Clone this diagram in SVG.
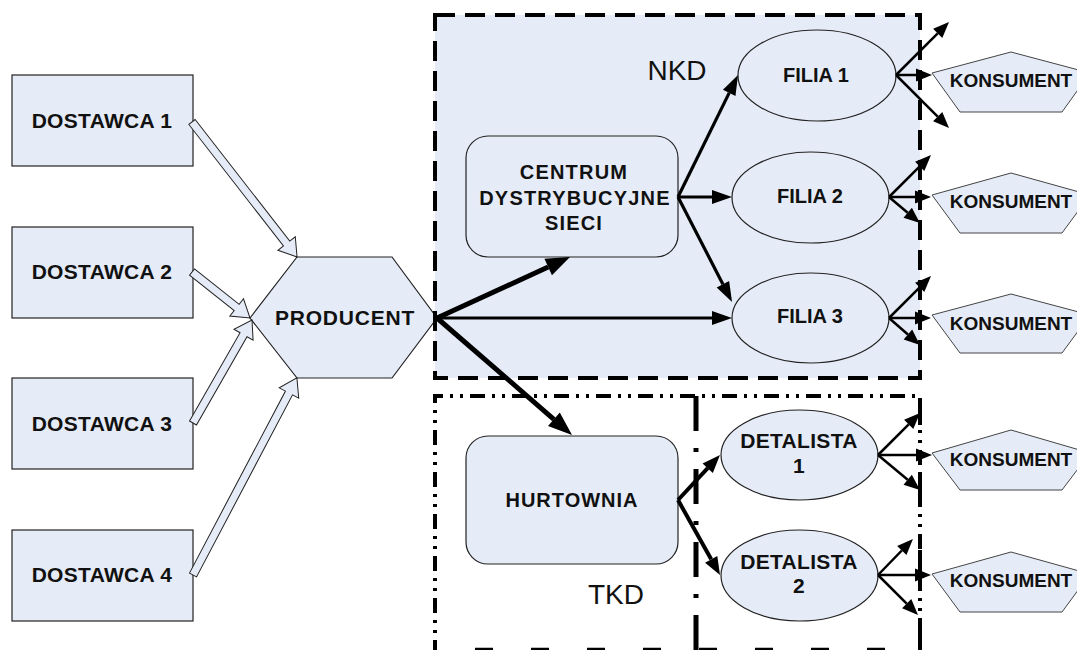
<svg xmlns="http://www.w3.org/2000/svg" width="1077" height="650" viewBox="0 0 1077 650">
<defs>
<style>
.n{fill:#E6ECF7;stroke:#222;stroke-width:1.2}
.p{fill:#E6ECF7;stroke:#444;stroke-width:1}
.t{font-family:"Liberation Sans",Arial,sans-serif;font-weight:bold;font-size:21px;fill:#111;text-anchor:middle;letter-spacing:0.3px}
.k{font-family:"Liberation Sans",Arial,sans-serif;font-weight:bold;font-size:19px;fill:#111;text-anchor:middle}
.lab{font-family:"Liberation Sans",Arial,sans-serif;font-size:28px;fill:#111;text-anchor:middle}
.ha{fill:#E6ECF7;stroke:#222;stroke-width:1}
.c5{stroke:#000;stroke-width:5;fill:none;marker-end:url(#h5)}
.c3{stroke:#000;stroke-width:3.2;fill:none;marker-end:url(#h3)}
.c4{stroke:#000;stroke-width:4;fill:none;marker-end:url(#h4)}
.c2{stroke:#000;stroke-width:2.5;fill:none;marker-end:url(#h2)}
</style>
<marker id="h5" markerUnits="userSpaceOnUse" markerWidth="24" markerHeight="18" refX="0" refY="9" orient="auto" overflow="visible"><path d="M0,0 L24,9 L0,18 z" fill="#000"/></marker>
<marker id="h3" markerUnits="userSpaceOnUse" markerWidth="20" markerHeight="14" refX="0" refY="7" orient="auto" overflow="visible"><path d="M0,0 L20,7 L0,14 z" fill="#000"/></marker>
<marker id="h4" markerUnits="userSpaceOnUse" markerWidth="18" markerHeight="14" refX="0" refY="7" orient="auto" overflow="visible"><path d="M0,0 L18,7 L0,14 z" fill="#000"/></marker>
<marker id="h2" markerUnits="userSpaceOnUse" markerWidth="16" markerHeight="13" refX="0" refY="6.5" orient="auto" overflow="visible"><path d="M0,0 L16,6.5 L0,13 z" fill="#000"/></marker>
</defs>

<rect x="435" y="15" width="485" height="363" fill="#E6ECF7"/>

<g id="dostawca1"><rect class="n" x="12" y="75" width="181" height="91"/><text class="t" x="102" y="128">DOSTAWCA 1</text></g>
<g id="dostawca2"><rect class="n" x="12" y="227" width="181" height="91"/><text class="t" x="102" y="279">DOSTAWCA 2</text></g>
<g id="dostawca3"><rect class="n" x="12" y="378" width="181" height="91"/><text class="t" x="102" y="431">DOSTAWCA 3</text></g>
<g id="dostawca4"><rect class="n" x="12" y="530" width="181" height="91"/><text class="t" x="102" y="582">DOSTAWCA 4</text></g>

<g id="producent"><polygon class="n" points="250,318 297,257 392,257 437,318 392,378 297,378"/><text class="t" x="345" y="325" style="letter-spacing:0.8px">PRODUCENT</text></g>

<g id="centrum"><rect class="n" x="466" y="136" width="212" height="121" rx="22"/>
<text class="t" x="574" y="179" style="font-size:20px;letter-spacing:1.2px">CENTRUM</text><text class="t" x="575" y="205" style="font-size:20px;letter-spacing:1.2px">DYSTRYBUCYJNE</text><text class="t" x="574" y="230" style="font-size:20px;letter-spacing:1.2px">SIECI</text></g>

<g id="hurtownia"><rect class="n" x="466" y="436" width="212" height="128" rx="22"/><text class="t" x="572" y="507" style="font-size:20px;letter-spacing:1px">HURTOWNIA</text></g>

<g id="filia1"><ellipse class="n" cx="817" cy="75.5" rx="79" ry="45.5"/><text class="t" x="816" y="82" style="font-size:20px;letter-spacing:0">FILIA 1</text></g>
<g id="filia2"><ellipse class="n" cx="810.5" cy="197.5" rx="78.5" ry="45.5"/><text class="t" x="810" y="203" style="font-size:20px;letter-spacing:0">FILIA 2</text></g>
<g id="filia3"><ellipse class="n" cx="810.5" cy="318" rx="78.5" ry="45"/><text class="t" x="810" y="323" style="font-size:20px;letter-spacing:0">FILIA 3</text></g>

<g id="detalista1"><ellipse class="n" cx="799.5" cy="455" rx="78.5" ry="45"/><text class="t" x="799" y="448">DETALISTA</text><text class="t" x="799" y="473">1</text></g>
<g id="detalista2"><ellipse class="n" cx="799.5" cy="575.5" rx="78.5" ry="45.5"/><text class="t" x="799" y="569">DETALISTA</text><text class="t" x="799" y="593">2</text></g>

<g id="konsument1"><polygon class="p" points="1011,52 1090,73 1062,112 960,112 932,73"/><text class="k" x="1011" y="87">KONSUMENT</text></g>
<g id="konsument2"><polygon class="p" points="1011,173 1090,195 1062,233 960,233 932,195"/><text class="k" x="1011" y="208">KONSUMENT</text></g>
<g id="konsument3"><polygon class="p" points="1011,294 1090,315 1062,353 960,353 932,315"/><text class="k" x="1011" y="330">KONSUMENT</text></g>
<g id="konsument4"><polygon class="p" points="1011,430 1090,453 1062,490 960,490 932,453"/><text class="k" x="1011" y="466">KONSUMENT</text></g>
<g id="konsument5"><polygon class="p" points="1011,552 1090,574 1062,612 960,612 932,574"/><text class="k" x="1011" y="587">KONSUMENT</text></g>

<g id="connectors">
<polygon class="ha" transform="translate(192,122) rotate(52.1)" points="0,-4 154,-4 154,-11 171,0 154,11 154,4 0,4"/>
<polygon class="ha" transform="translate(192,272) rotate(38.4)" points="0,-4 57,-4 57,-11 74,0 57,11 57,4 0,4"/>
<polygon class="ha" transform="translate(193,423) rotate(-60.2)" points="0,-4 101.7,-4 101.7,-11 118.7,0 101.7,11 101.7,4 0,4"/>
<polygon class="ha" transform="translate(193,575) rotate(-62.2)" points="0,-4 205.8,-4 205.8,-11 222.8,0 205.8,11 205.8,4 0,4"/>

<line class="c5" x1="437" y1="318" x2="548.2" y2="267"/>
<line class="c5" x1="437" y1="318" x2="553.9" y2="419.3"/>
<line class="c3" x1="437" y1="318" x2="712" y2="318"/>
<line class="c3" x1="678" y1="197" x2="729.2" y2="92.9"/>
<line class="c3" x1="678" y1="197" x2="712" y2="197"/>
<line class="c3" x1="678" y1="197" x2="722.9" y2="284.2"/>
<line class="c4" x1="678" y1="500" x2="707.7" y2="468.2"/>
<line class="c4" x1="678" y1="500" x2="711.2" y2="559.3"/>

<line class="c2" x1="896" y1="75" x2="937.7" y2="33.3"/>
<line class="c2" x1="896" y1="75" x2="916" y2="75"/>
<line class="c2" x1="896" y1="75" x2="937.7" y2="116.7"/>
<line class="c2" x1="889" y1="197" x2="919.7" y2="166.3"/>
<line class="c2" x1="889" y1="197" x2="915" y2="197"/>
<line class="c2" x1="889" y1="197" x2="907.7" y2="212.7"/>
<line class="c2" x1="889" y1="318" x2="919.7" y2="287.3"/>
<line class="c2" x1="889" y1="318" x2="915" y2="318"/>
<line class="c2" x1="889" y1="318" x2="907.9" y2="334.5"/>
<line class="c2" x1="878" y1="455" x2="908.7" y2="424.3"/>
<line class="c2" x1="878" y1="455" x2="916" y2="455"/>
<line class="c2" x1="878" y1="455" x2="907.7" y2="479.8"/>
<line class="c2" x1="878" y1="575" x2="901.8" y2="550.5"/>
<line class="c2" x1="878" y1="575" x2="915" y2="575"/>
<line class="c2" x1="878" y1="575" x2="906.7" y2="603.7"/>
</g>

<g id="nkd">
<rect x="435" y="15" width="485" height="363" fill="none" stroke="#000" stroke-width="4" stroke-dasharray="20 10"/>
<text class="lab" x="677" y="80">NKD</text>
</g>
<g id="tkd">
<path d="M435,655 V396 H920 V655" fill="none" stroke="#000" stroke-width="4" stroke-dasharray="15 7 3 7 3 7"/>
<path d="M696,396 V655" fill="none" stroke="#000" stroke-width="5" stroke-dasharray="35 17 4 17"/>
<path d="M920,400 V655" fill="none" stroke="#000" stroke-width="4" stroke-dasharray="25 50"/>
<line x1="475" y1="649" x2="900" y2="649" stroke="#000" stroke-width="2.5" stroke-dasharray="18 38"/>
<text class="lab" x="616" y="604">TKD</text>
</g>
</svg>
